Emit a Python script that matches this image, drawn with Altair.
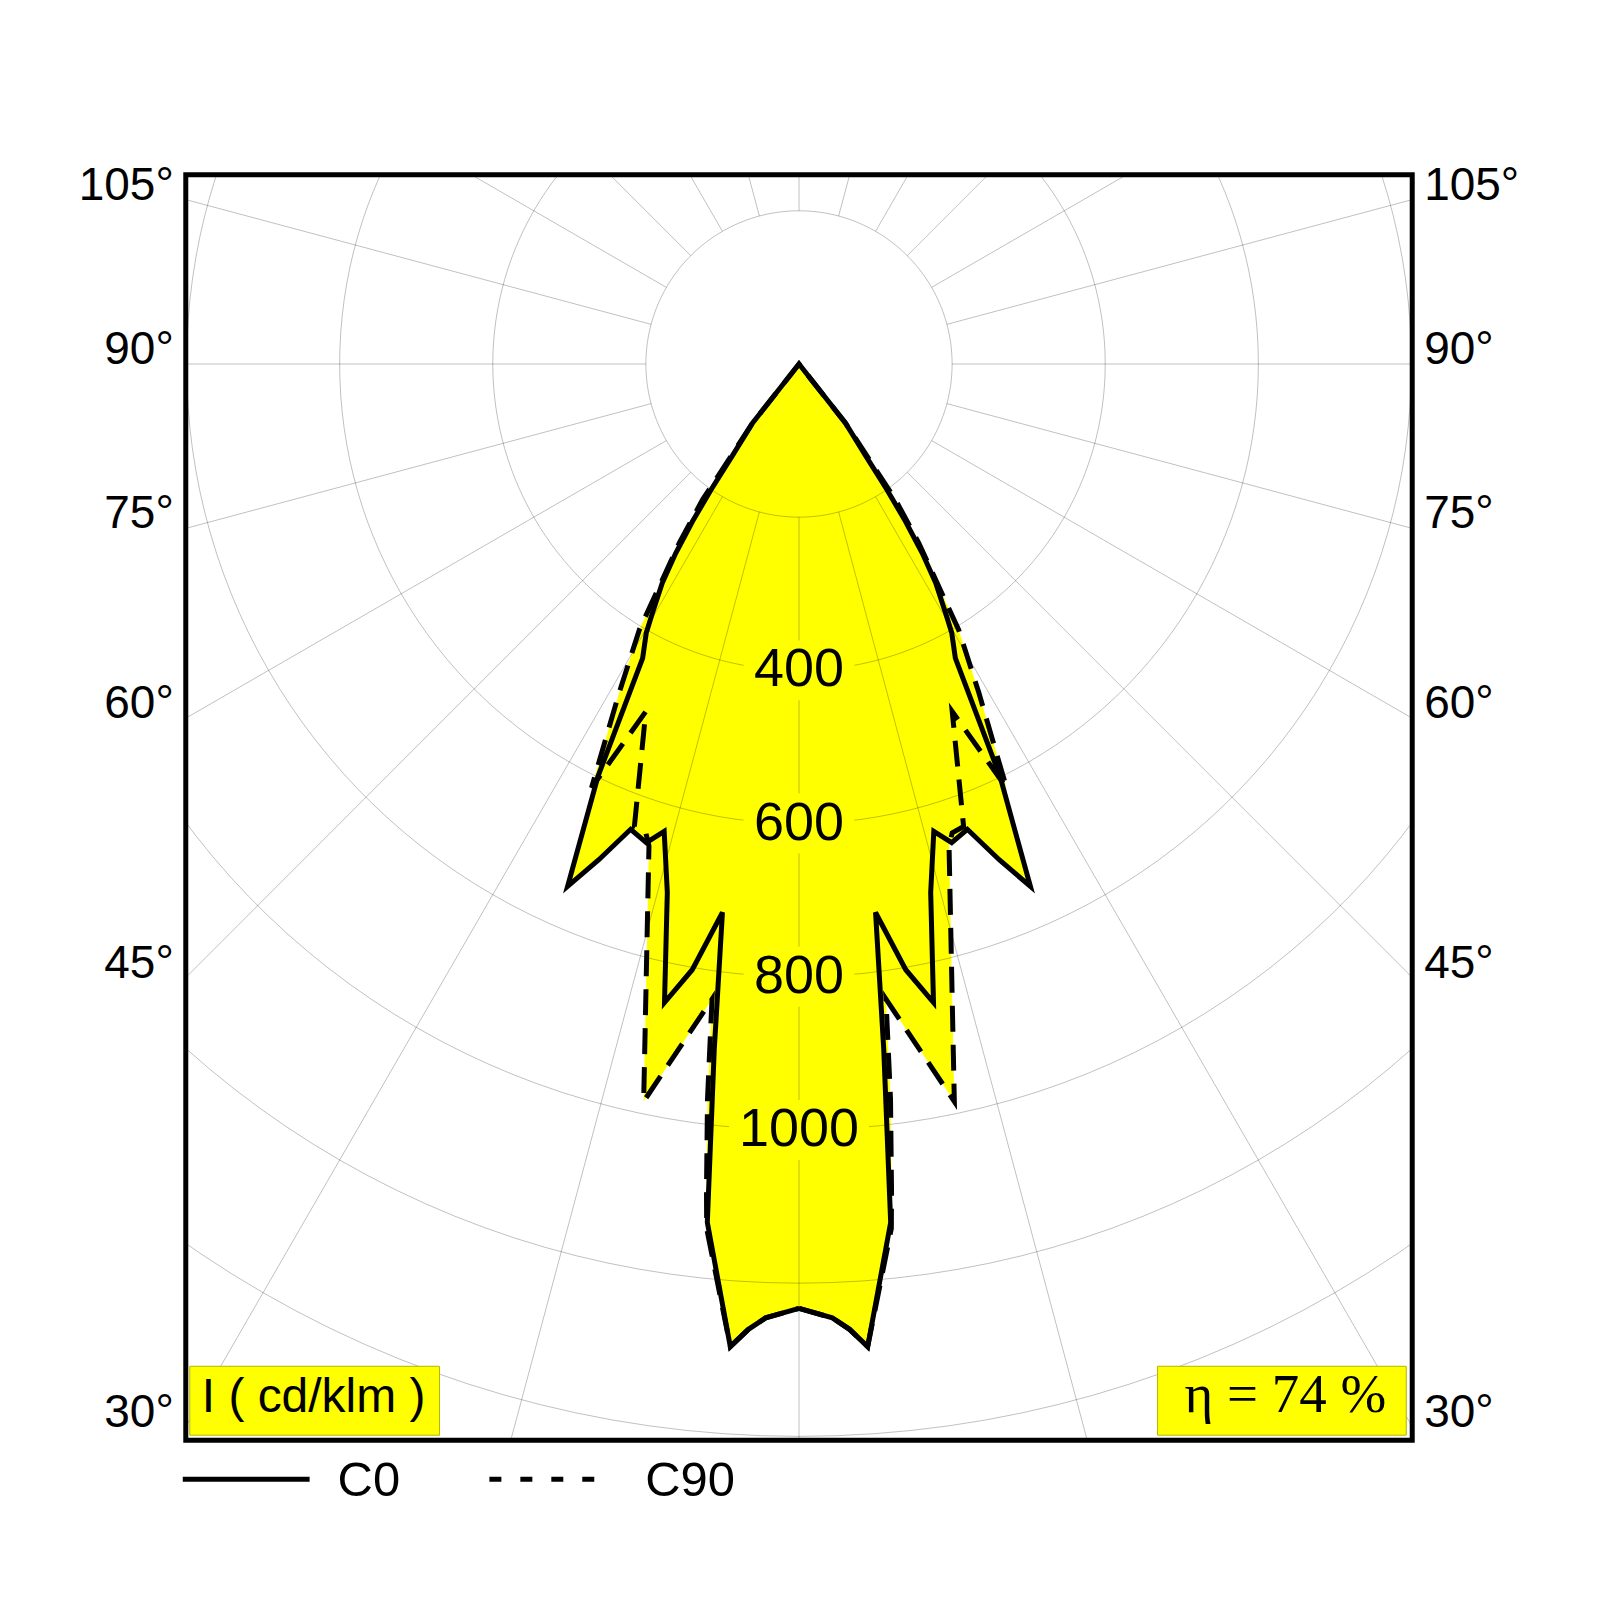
import altair as alt
import pandas as pd
import numpy as np

# ---------------- data (gamma in degrees from nadir, I in cd/klm), right half; left half mirrored
C0_GAMMA = [0, 2.0, 3.0, 4.0, 6.1, 7.05, 7.95, 10.0, 11.9, 14.0, 16.1, 17.7, 19.9, 22.0, 23.9,
            26.0, 28.0, 29.6, 30.5, 32.0, 33.1, 34.1, 35.0, 36.0, 38.2, 40.0]
C0_I = [1233, 1246, 1262, 1286, 1127, 902, 723, 803, 852, 711, 635, 656, 646, 698, 746,
        599, 435, 404, 377, 337, 295, 248, 200, 149, 98, 0]

C90_GAMMA = [0, 2.0, 3.0, 4.0, 6.1, 6.4, 7.1, 7.8, 11.9, 17.3, 18.1, 19.6, 23.8, 26.1,
             28.7, 31.0, 33.8, 35.4, 38.2, 40.0]
C90_I = [1233, 1246, 1262, 1286, 1135, 1084, 967, 837, 984, 659, 644, 641, 496, 616,
         489, 405, 281, 218, 98, 0]

GRID_RADII = [200, 400, 600, 800, 1000, 1200, 1400]
SPOKE_ANGLES = list(range(0, 360, 15))
RADIAL_LABELS = [400, 600, 800, 1000]
ANGLE_LABELS = [105, 90, 75, 60, 45, 30]
LEGEND_NAMES = ["C0", "C90"]
UNIT_TEXT = "I ( cd/klm )"
ETA_TEXT = "η = 74 %"

# ---------------- geometry
W, H = 1228, 1267
XD = [-801, 801]
YD = [-1405, 247]
PX_PER_CD = W / (XD[1] - XD[0])

xs = alt.Scale(domain=XD, nice=False, zero=False)
ys = alt.Scale(domain=YD, nice=False, zero=False)
X = alt.X("x:Q", scale=xs, axis=None)
Y = alt.Y("y:Q", scale=ys, axis=None)

rows = []
for name, G, I in [("C0", C0_GAMMA, C0_I), ("C90", C90_GAMMA, C90_I)]:
    k = 0
    for g, v in zip(G, I):
        rows.append(dict(curve=name, ord=k, gamma=g, I=v, side=1)); k += 1
    for g, v in zip(G[::-1], I[::-1]):
        rows.append(dict(curve=name, ord=k, gamma=g, I=v, side=-1)); k += 1
curves = pd.DataFrame(rows)

def polar(ch):
    return ch.transform_calculate(
        x="datum.side * datum.I * sin(datum.gamma * PI / 180)",
        y="-datum.I * cos(datum.gamma * PI / 180)",
    )

fill = polar(alt.Chart(curves)).mark_line(
    fill="#ffff00", strokeWidth=0, strokeOpacity=0, clip=True
).encode(x=X, y=Y, detail="curve:N", order="ord:Q")

circ = pd.DataFrame([dict(R=r, a=a) for r in GRID_RADII for a in range(0, 361, 2)])
circles = alt.Chart(circ).transform_calculate(
    x="datum.R * sin(datum.a * PI / 180)", y="datum.R * cos(datum.a * PI / 180)"
).mark_line(stroke="black", strokeOpacity=0.25, strokeWidth=1, clip=True).encode(
    x=X, y=Y, detail="R:N", order="a:Q")

sp = pd.DataFrame([dict(ang=a, r=r) for a in SPOKE_ANGLES for r in (GRID_RADII[0], 2200)])
spokes = alt.Chart(sp).transform_calculate(
    x="datum.r * sin(datum.ang * PI / 180)", y="-datum.r * cos(datum.ang * PI / 180)"
).mark_line(stroke="black", strokeOpacity=0.25, strokeWidth=1, clip=True).encode(
    x=X, y=Y, detail="ang:N", order="r:Q")

rl = pd.DataFrame({"v": RADIAL_LABELS, "t": [str(v) for v in RADIAL_LABELS]})
lab_bg = alt.Chart(rl).transform_calculate(
    hw=f"(length(datum.t) * 29 + 24) / 2 / {PX_PER_CD}",
    hh=f"30 / {PX_PER_CD}",
).transform_calculate(
    x="-datum.hw", x2="datum.hw", y="-datum.v - datum.hh", y2="-datum.v + datum.hh"
).mark_rect(fill="#ffff00").encode(x=X, x2="x2:Q", y=Y, y2="y2:Q")

lab_txt = alt.Chart(rl).transform_calculate(x="0", y="-datum.v").mark_text(
    font="Liberation Sans", fontSize=54, baseline="middle", align="center", color="black"
).encode(x=X, y=Y, text="t:N")

def curve_line(name, dash):
    kw = dict(stroke="black", strokeWidth=5, strokeJoin="miter", clip=True)
    if dash:
        kw["strokeDash"] = dash
    return polar(alt.Chart(curves).transform_filter(f"datum.curve == '{name}'")).mark_line(
        **kw).encode(x=X, y=Y, order="ord:Q")

c90 = curve_line("C90", [26, 13])
c0 = curve_line("C0", None)

al = pd.DataFrame({"a": ANGLE_LABELS, "t": [f"{a}°" for a in ANGLE_LABELS]})
def angle_labels(side):
    return alt.Chart(al).transform_calculate(
        x=f"{side} * {XD[1]}",
        y=f"-{XD[1]} * cos(datum.a * PI / 180) / sin(datum.a * PI / 180)",
    ).mark_text(
        font="Liberation Sans", fontSize=46, baseline="alphabetic",
        align="right" if side < 0 else "left", dx=-12 if side < 0 else 12, color="black"
    ).encode(x=X, y=Y, text="t:N")

one = pd.DataFrame({"k": [0]})
box_l = alt.Chart(one).mark_rect(fill="#ffff00", stroke="#b5b500", strokeWidth=1).encode(
    x=alt.value(4), x2=alt.value(254), y=alt.value(1193), y2=alt.value(1262))
box_r = alt.Chart(one).mark_rect(fill="#ffff00", stroke="#b5b500", strokeWidth=1).encode(
    x=alt.value(973), x2=alt.value(1222), y=alt.value(1193), y2=alt.value(1262))
txt_l = alt.Chart(one).mark_text(
    text=UNIT_TEXT, font="Liberation Sans", fontSize=48, align="left", baseline="alphabetic",
    color="black").encode(x=alt.value(16), y=alt.value(1239))
txt_r = alt.Chart(one).mark_text(
    text=ETA_TEXT, font="Liberation Serif", fontSize=55, align="center", baseline="alphabetic",
    color="black").encode(x=alt.value(1101), y=alt.value(1239))

leg_solid = alt.Chart(one).mark_rule(stroke="black", strokeWidth=5).encode(
    x=alt.value(-3), x2=alt.value(124), y=alt.value(1306))
leg_dash = alt.Chart(one).mark_rule(stroke="black", strokeWidth=5, strokeDash=[12, 19]).encode(
    x=alt.value(304), x2=alt.value(412), y=alt.value(1306))
leg_t0 = alt.Chart(one).mark_text(
    text=LEGEND_NAMES[0], font="Liberation Sans", fontSize=49, align="left", baseline="middle",
    color="black").encode(x=alt.value(152), y=alt.value(1308))
leg_t1 = alt.Chart(one).mark_text(
    text=LEGEND_NAMES[1], font="Liberation Sans", fontSize=49, align="left", baseline="middle",
    color="black").encode(x=alt.value(460), y=alt.value(1308))

chart = alt.layer(
    fill, circles, spokes, lab_bg, lab_txt, c90, c0,
    angle_labels(-1), angle_labels(1),
    box_l, box_r, txt_l, txt_r, leg_solid, leg_dash, leg_t0, leg_t1,
).properties(
    width=W, height=H,
    autosize=alt.AutoSizeParams(type="none"),
    padding={"left": 178, "top": 166, "right": 180, "bottom": 150},
    background="white",
).configure_view(stroke="black", strokeWidth=5, fill="white")

chart.save("out.html", embed_options={"renderer": "svg", "actions": False})
